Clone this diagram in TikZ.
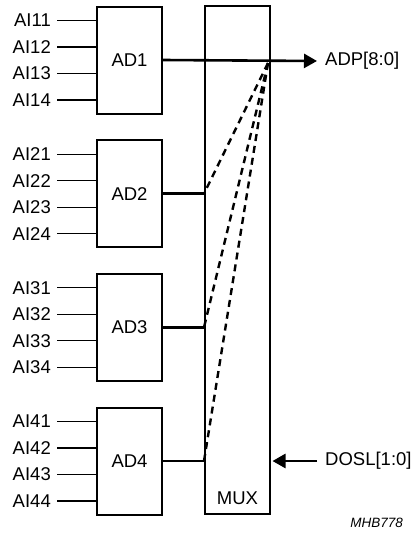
\documentclass[tikz,border=0pt]{standalone}
\usepackage{fontspec}
\setmainfont{Liberation Sans}
\usepackage{tikz}
\usetikzlibrary{calc, arrows.meta}
\tikzset{every node/.append style={font=\fontsize{18.5}{21}\selectfont}}
\tikzset{
  adbox/.style={draw, line width=2pt, minimum width=65pt, minimum height=107pt, inner sep=0pt},
  muxbox/.style={draw, line width=2pt, minimum width=65pt, minimum height=508pt, inner sep=0pt},
  inwire/.style={line width=1.3pt},
  bus/.style={line width=2.6pt},
  busdash/.style={line width=2.4pt, dash pattern=on 7pt off 5pt},
  pinlabel/.style={inner sep=0pt, inner xsep=6pt}
}

\begin{document}
\begin{tikzpicture}[x=1pt, y=-1pt, >={Triangle[length=13pt, width=14pt]}]
    \useasboundingbox (0,0) rectangle (417,533);
    \node[muxbox] (mux) at (237.5,260) {};
    \node (muxtext) at ($(mux.south)+(0,-17)$) {MUX};
    \foreach \i in {1,...,4} {
        \node[adbox] (ad\i) at (129.5,{60+133.67*(\i-1)}) {AD\i};
        \foreach \j in {1,...,4} {
            \node[pinlabel, anchor=east] (ai\i\j) at ($(ad\i.west)+(-39,{-39.5+26.5*(\j-1)})$) {AI\i\j};
            \draw[inwire] (ai\i\j.east) -- (ai\i\j.east -| ad\i.west);
        }
    }
    \node[pinlabel, anchor=west, inner xsep=8pt] (adp) at (317,61) {ADP[8:0]};
    \node[pinlabel, anchor=west, inner xsep=8pt] (dosl) at (317,461) {DOSL[1:0]};
    \draw[bus, ->] (ad1.east) -- (adp.west);
    \coordinate (hub) at (268,63);
    \foreach \i in {2,3,4} {
        \draw[bus] (ad\i.east) -- (ad\i.east -| mux.west);
        \draw[busdash] (hub) -- (ad\i.east -| mux.west);
    }
    \draw[bus, ->, shorten >=1.5pt] (dosl.west) -- (dosl.west -| mux.east);
    \node[anchor=south east, inner sep=0pt, font=\fontsize{13.5}{16}\selectfont\itshape] (code) at (403,528) {MHB778};
\end{tikzpicture}
\end{document}
